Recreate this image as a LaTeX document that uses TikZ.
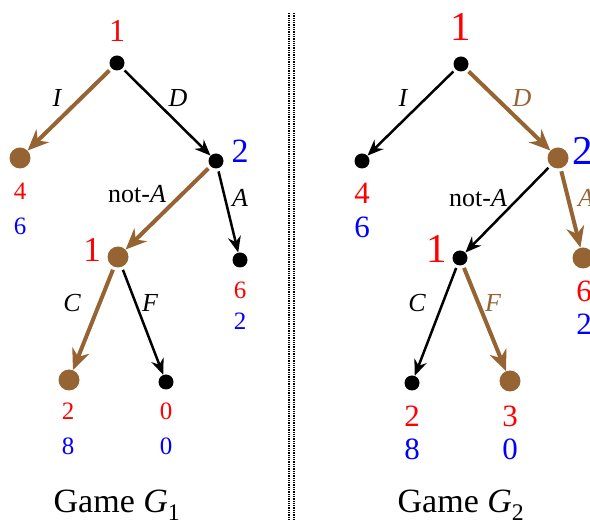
\documentclass[tikz,border=0pt]{standalone}
\usepackage{fontspec}
\setmainfont{Liberation Serif}
\usetikzlibrary{arrows.meta}

\definecolor{brn}{RGB}{150,100,50}
\newcommand\fsz[1]{\fontsize{#1}{#1}\selectfont}

\tikzset{
  dot/.style={circle,fill=black,inner sep=0pt,minimum size=15pt},
  bdot/.style={circle,fill=brn,inner sep=0pt,minimum size=21pt},
  move/.style={line width=2.5pt,-{Stealth[length=16pt,width=13pt]},shorten <=3pt},
  bmove/.style={brn,line width=4pt,-{Stealth[length=21pt,width=18pt]},shorten <=3pt},
  lbl/.style={font=\fsz{26}\itshape},
  pay/.style={font=\fsz{25}},
}

\begin{document}
\begin{tikzpicture}[x=1pt,y=-1pt]
\useasboundingbox (0,0) rectangle (590,521);

% divider
\draw[densely dotted,line width=1.3pt] (289,13) -- (289,521);
\draw[densely dotted,line width=1.3pt] (294,13) -- (294,521);

% Game G1
\node[dot] (a) at (117,63) {};
\node[bdot] (aI) at (20,158) {};
\node[dot] (aD) at (216,161) {};
\node[bdot] (aN) at (118,257) {};
\node[dot] (aA) at (240,260) {};
\node[bdot] (aC) at (69,380) {};
\node[dot] (aF) at (166,382) {};

\node[red,font=\fsz{32}] (pa) at (117,30.5) {1};
\node[blue,font=\fsz{34}] (pb) at (240,151.5) {2};
\node[red,font=\fsz{35}] (pc) at (92,250) {1};

\draw[bmove] (a) -- (aI);
\draw[move] (a) -- (aD);
\draw[bmove] (aD) -- (aN);
\draw[move] (aD) -- (aA);
\draw[bmove] (aN) -- (aC);
\draw[move] (aN) -- (aF);

\node[lbl] (lI) at (57,98) {I};
\node[lbl] (lD) at (178,98) {D};
\node[lbl] (lN) at (137,194) {\upshape not-\itshape A};
\node[lbl] (lA) at (240,198) {A};
\node[lbl] (lC) at (72,303) {C};
\node[lbl] (lF) at (150,303) {F};

\node[pay,red] (p1) at (20,191) {4};
\node[pay,blue] (q1) at (20,226) {6};
\node[pay,red] (p2) at (240,290) {6};
\node[pay,blue] (q2) at (240,321) {2};
\node[pay,red] (p3) at (68,411) {2};
\node[pay,blue] (q3) at (68,446) {8};
\node[pay,red] (p4) at (166,411) {0};
\node[pay,blue] (q4) at (166,446) {0};

\node[font=\fsz{34},anchor=base] (ga) at (117,513) {Game \textit{G}\textsubscript{1}};

% Game G2
\node[dot] (b) at (461,64) {};
\node[dot] (bI) at (362,161) {};
\node[bdot] (bD) at (558,158) {};
\node[dot] (bN) at (460,258) {};
\node[bdot] (bA) at (583,258) {};
\node[dot] (bC) at (412,383) {};
\node[bdot] (bF) at (510,381) {};

\node[red,font=\fsz{41}] (ra) at (461,27) {1};
\node[blue,font=\fsz{41}] (rb) at (583,151) {2};
\node[red,font=\fsz{41}] (rc) at (437,249) {1};

\draw[move] (b) -- (bI);
\draw[bmove] (b) -- (bD);
\draw[move] (bD) -- (bN);
\draw[bmove] (bD) -- (bA);
\draw[move] (bN) -- (bC);
\draw[bmove] (bN) -- (bF);

\node[lbl] (mI) at (403,98) {I};
\node[lbl,brn] (mD) at (522,98) {D};
\node[lbl] (mN) at (478,198) {\upshape not-\itshape A};
\node[lbl,brn] (mA) at (586,198) {A};
\node[lbl] (mC) at (417,303) {C};
\node[lbl,brn] (mF) at (493,303) {F};

\node[pay,red,font=\fsz{31}] (s1) at (362,193) {4};
\node[pay,blue,font=\fsz{31}] (t1) at (362,227) {6};
\node[pay,red,font=\fsz{31}] (s2) at (584,291) {6};
\node[pay,blue,font=\fsz{31}] (t2) at (584,324) {2};
\node[pay,red,font=\fsz{31}] (s3) at (412,416) {2};
\node[pay,blue,font=\fsz{31}] (t3) at (412,449) {8};
\node[pay,red,font=\fsz{31}] (s4) at (510,416) {3};
\node[pay,blue,font=\fsz{31}] (t4) at (510,449) {0};

\node[font=\fsz{34},anchor=base] (gb) at (461,513) {Game \textit{G}\textsubscript{2}};
\end{tikzpicture}
\end{document}
